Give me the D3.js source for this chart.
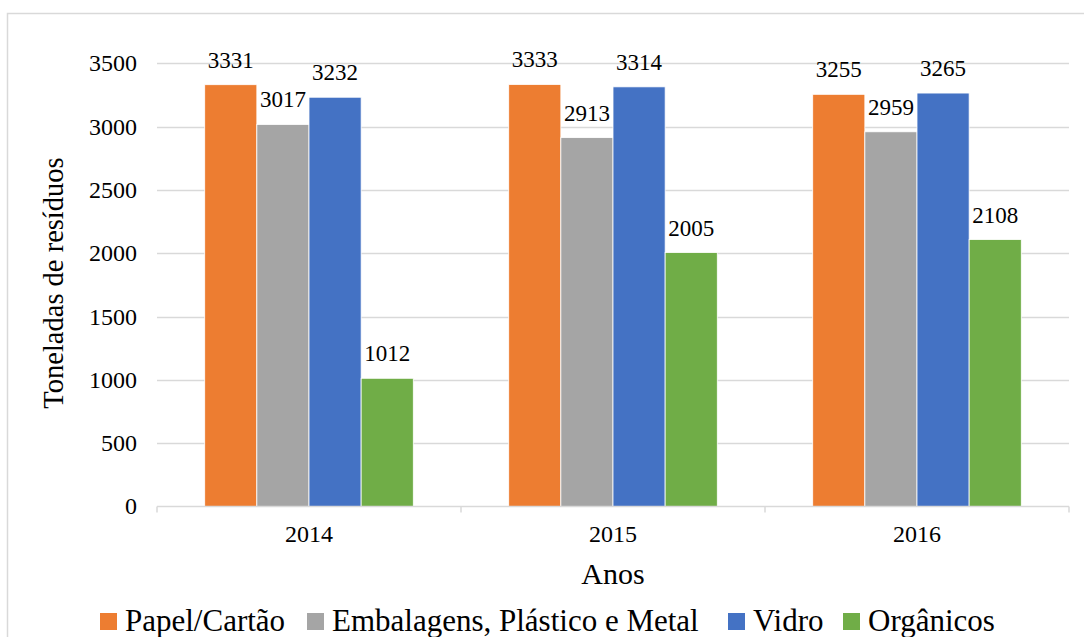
<!DOCTYPE html>
<html>
<head>
<meta charset="utf-8">
<script src="https://cdn.jsdelivr.net/npm/d3@7"></script>
</head>
<body style="margin:0;background:#fff">
<svg id="chart" width="1084" height="637"></svg>
<script>
// Waste collected per year, in tonnes
const years = ["2014", "2015", "2016"];
const seriesNames = ["Papel/Cartão", "Embalagens, Plástico e Metal", "Vidro", "Orgânicos"];
const papelCartao = [3331, 3333, 3255];
const embalagens = [3017, 2913, 2959];
const vidro = [3232, 3314, 3265];
const organicos = [1012, 2005, 2108];
const yTicks = [0, 500, 1000, 1500, 2000, 2500, 3000, 3500];
const colors = ["#ED7D31", "#A5A5A5", "#4472C4", "#70AD47"];

const seriesValues = [papelCartao, embalagens, vidro, organicos];
const FONT = "Liberation Serif";

const svg = d3.select("#chart");
const W = 1084, H = 637;

// outer chart frame
svg.append("rect")
  .attr("x", 7.5).attr("y", 13.5)
  .attr("width", W + 20).attr("height", H + 20)
  .attr("fill", "none").attr("stroke", "#D9D9D9").attr("stroke-width", 1.5);

const plot = { left: 157, right: 1069, top: 63.3, bottom: 506.4 };

const y = d3.scaleLinear().domain([0, 3500]).range([plot.bottom, plot.top]);
const x0 = d3.scaleBand().domain(years).range([plot.left, plot.right]).padding(0);
const x1 = d3.scaleBand().domain(seriesNames).range([0, x0.bandwidth()])
  .paddingInner(0).paddingOuter(0.915);

// horizontal gridlines
svg.append("g").selectAll("line")
  .data(yTicks.filter(d => d > 0))
  .join("line")
  .attr("x1", plot.left).attr("x2", plot.right)
  .attr("y1", d => Math.round(y(d)) + 0.5).attr("y2", d => Math.round(y(d)) + 0.5)
  .attr("stroke", "#D9D9D9").attr("stroke-width", 1.3);

// y tick labels
svg.append("g").selectAll("text")
  .data(yTicks)
  .join("text")
  .attr("x", 137).attr("y", d => y(d) + 8)
  .attr("text-anchor", "end")
  .attr("font-family", FONT)
  .attr("font-size", 24).attr("fill", "#000")
  .text(d => d);

// bars
const groups = svg.append("g").selectAll("g")
  .data(years)
  .join("g")
  .attr("transform", d => `translate(${x0(d)},0)`);

groups.selectAll("rect")
  .data((d, i) => seriesNames.map((s, k) => ({ s, k, v: seriesValues[k][i] })))
  .join("rect")
  .attr("x", d => x1(d.s))
  .attr("width", x1.bandwidth())
  .attr("y", d => y(d.v))
  .attr("height", d => y(0) - y(d.v))
  .attr("fill", d => colors[d.k])
  .attr("stroke", "#fff").attr("stroke-width", 0.8);

// value labels
groups.selectAll("text")
  .data((d, i) => seriesNames.map((s, k) => ({ s, k, v: seriesValues[k][i] })))
  .join("text")
  .attr("x", d => x1(d.s) + x1.bandwidth() / 2)
  .attr("y", d => y(d.v) - 17)
  .attr("text-anchor", "middle")
  .attr("font-family", FONT)
  .attr("font-size", 23).attr("fill", "#000")
  .text(d => d.v);

// x axis line and category ticks
svg.append("line")
  .attr("x1", plot.left).attr("x2", plot.right)
  .attr("y1", plot.bottom).attr("y2", plot.bottom)
  .attr("stroke", "#D9D9D9").attr("stroke-width", 1.5);
const boundaries = years.map(d => x0(d)).concat([x0(years[years.length - 1]) + x0.bandwidth()]);
svg.append("g").selectAll("line")
  .data(boundaries)
  .join("line")
  .attr("x1", d => d).attr("x2", d => d)
  .attr("y1", plot.bottom).attr("y2", plot.bottom + 6)
  .attr("stroke", "#D9D9D9").attr("stroke-width", 1.5);

// category labels
svg.append("g").selectAll("text")
  .data(years)
  .join("text")
  .attr("x", d => x0(d) + x0.bandwidth() / 2)
  .attr("y", plot.bottom + 36)
  .attr("text-anchor", "middle")
  .attr("font-family", FONT)
  .attr("font-size", 24).attr("fill", "#000")
  .text(d => d);

// axis titles
svg.append("text")
  .attr("x", (plot.left + plot.right) / 2).attr("y", 584)
  .attr("text-anchor", "middle")
  .attr("font-family", FONT)
  .attr("font-size", 30).attr("fill", "#000")
  .text("Anos");

svg.append("text")
  .attr("transform", "translate(63,283) rotate(-90)")
  .attr("text-anchor", "middle")
  .attr("font-family", FONT)
  .attr("font-size", 28.5).attr("fill", "#000")
  .text("Toneladas de resíduos");

// legend
const legendX = [100, 307, 728, 843];
const legend = svg.append("g").attr("transform", "translate(0,631)");
const items = legend.selectAll("g")
  .data(seriesNames)
  .join("g")
  .attr("transform", (d, k) => `translate(${legendX[k]},0)`);
items.append("rect")
  .attr("x", 0).attr("y", -18)
  .attr("width", 17).attr("height", 17)
  .attr("fill", (d, k) => colors[k]);
items.append("text")
  .attr("x", 25).attr("y", 0)
  .attr("font-family", FONT)
  .attr("font-size", 31).attr("fill", "#000")
  .text(d => d);
</script>
</body>
</html>
